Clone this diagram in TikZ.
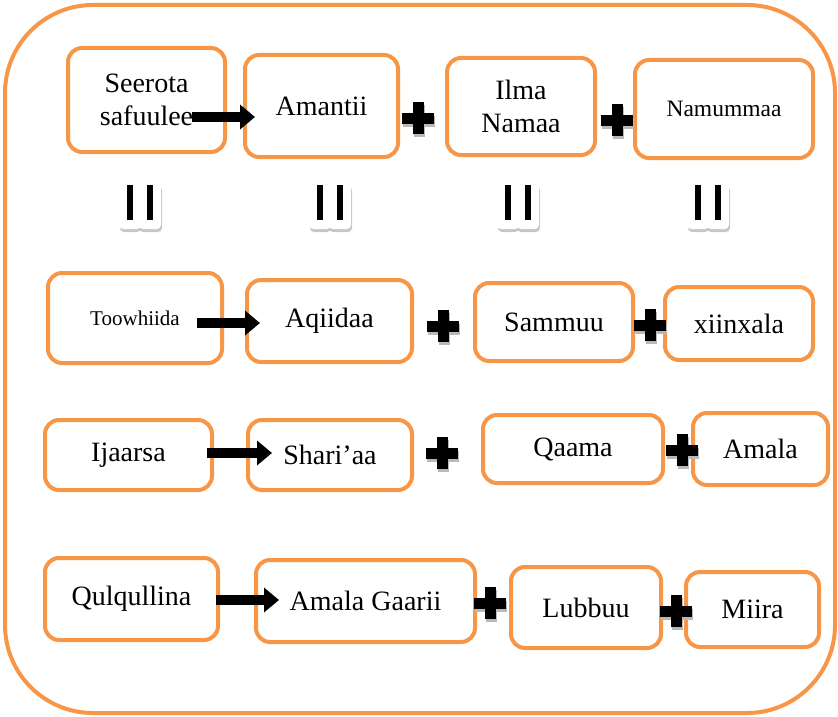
\documentclass[tikz,border=0pt]{standalone}
\usepackage{fontspec}
\setmainfont{Liberation Serif}
\usetikzlibrary{arrows.meta}
\definecolor{boxorange}{HTML}{F79646}

\begin{document}
\begin{tikzpicture}[x=1pt, y=-1pt,
        box/.style={draw=boxorange, line width=4pt, rounded corners=14pt, fill=white,
            align=center, inner sep=2pt, outer sep=0pt, font=\fontsize{28}{33}\selectfont},
        smalltext/.style={font=\fontsize{21}{25}\selectfont},
        blockarrow/.style={line width=10pt, -{Triangle[length=15pt, width=24pt]}},
        pics/plussign/.style={code={
            \fill[gray!55] (-15,-2.5) rectangle (17,8.5);
            \fill[gray!55] (-4.5,-13) rectangle (6.5,19);
            \fill (-16,-5.5) rectangle (16,5.5);
            \fill (-5.5,-16) rectangle (5.5,16);
        }},
        pics/equalsign/.style={code={
            \fill[gray!45, rounded corners=4pt] (-20,-17) rectangle (1,29);
            \fill[gray!45, rounded corners=4pt] (-1,-17) rectangle (22,29);
            \fill[white, rounded corners=4pt] (-21,-20) rectangle (1,26);
            \fill[white, rounded corners=4pt] (-1,-20) rectangle (21,26);
            \fill (-13,-18) rectangle (-7,17);
            \fill (7,-18) rectangle (13,17);
        }}]

        \useasboundingbox (0,0) rectangle (838,717);
        \draw[boxorange, line width=4pt, rounded corners=88pt] (5,5) rectangle (835,713);

        \node[box, minimum width=157pt, minimum height=104pt] (seerota) at (146.5,100) {Seerota\\safuulee};
        \node[box, minimum width=153pt, minimum height=102pt] (amantii) at (321.5,106) {Amantii};
        \node[box, minimum width=148pt, minimum height=97pt] (ilma) at (521,106.5) {Ilma\\Namaa};
        \node[box, minimum width=178pt, minimum height=98pt, font=\fontsize{23.5}{28}\selectfont] (namummaa) at (724,109) {Namummaa};

        \node[box, minimum width=174pt, minimum height=90pt, smalltext] (toowhiida) at (135,318) {Toowhiida};
        \node[box, minimum width=165pt, minimum height=82pt] (aqiidaa) at (329.5,321) {Aqiidaa};
        \node[box, minimum width=158pt, minimum height=78pt] (sammuu) at (554,322) {Sammuu};
        \node[box, minimum width=148pt, minimum height=73pt] (xiinxala) at (739,323.5) {xiinxala};

        \node[box, minimum width=167pt, minimum height=70pt] (ijaarsa) at (128.5,455) {Ijaarsa};
        \node[box, minimum width=164pt, minimum height=70pt] (sharia) at (330,455) {Shari’aa};
        \node[box, minimum width=180pt, minimum height=68pt] (qaama) at (573,449) {Qaama};
        \node[box, minimum width=135pt, minimum height=72pt] (amala) at (760.5,449) {Amala};

        \node[box, minimum width=173pt, minimum height=82pt] (qulqullina) at (131.5,599) {Qulqullina};
        \node[box, minimum width=219pt, minimum height=82pt] (gaarii) at (365.5,601) {Amala Gaarii};
        \node[box, minimum width=150pt, minimum height=81pt] (lubbuu) at (586,607.5) {Lubbuu};
        \node[box, minimum width=133pt, minimum height=75pt] (miira) at (752.5,609.5) {Miira};

        \draw[blockarrow] ([shift={(-33,17)}]seerota.east) -- ([shift={(10,11)}]amantii.west);
        \draw[blockarrow] ([shift={(-25,5)}]toowhiida.east) -- ([shift={(13,2)}]aqiidaa.west);
        \draw[blockarrow] ([shift={(-5,-2)}]ijaarsa.east) -- ([shift={(24,-2)}]sharia.west);
        \draw[blockarrow] ([shift={(-2,1)}]qulqullina.east) -- ([shift={(23,-1)}]gaarii.west);

        \pic (plusa) at (418,118) {plussign};
        \pic (plusb) at (617,120) {plussign};
        \pic (plusc) at (443,326) {plussign};
        \pic (plusd) at (650,325) {plussign};
        \pic (pluse) at (442,453) {plussign};
        \pic (plusf) at (682,450) {plussign};
        \pic (plusg) at (490,603) {plussign};
        \pic (plush) at (676,611) {plussign};

        \pic (eqa) at (140,203) {equalsign};
        \pic (eqb) at (330,203) {equalsign};
        \pic (eqc) at (518,203) {equalsign};
        \pic (eqd) at (708,203) {equalsign};
    \end{tikzpicture}
\end{document}
